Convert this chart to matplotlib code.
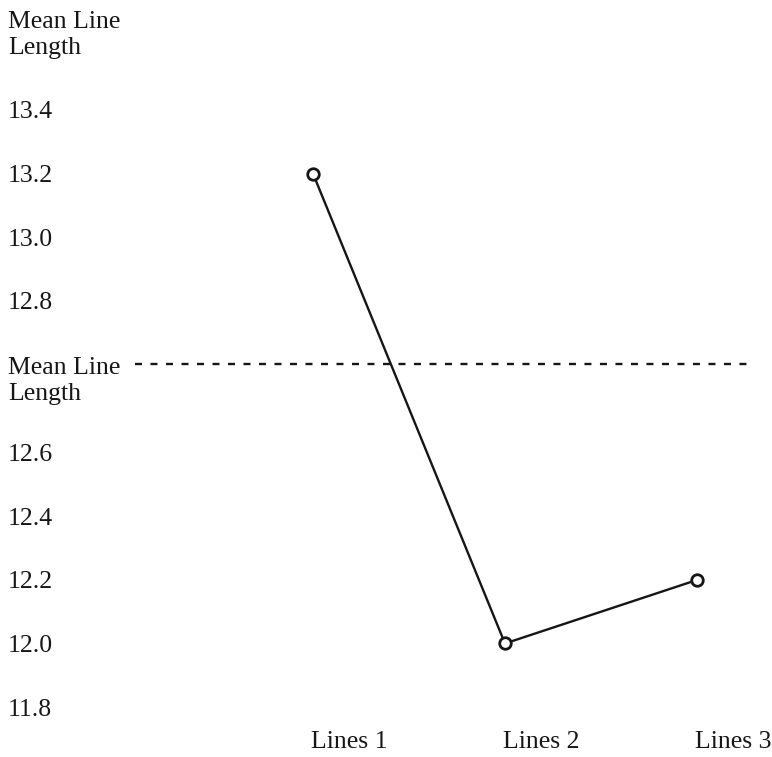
import numpy as np
import matplotlib
matplotlib.use("Agg")
import matplotlib.pyplot as plt
import matplotlib.transforms as mtransforms

# ---- data ----
categories = ["Lines 1", "Lines 2", "Lines 3"]
mean_line_length = [13.2, 12.0, 12.2]
tick_values = [11.8, 12.0, 12.2, 12.4, 12.6, 12.8, 13.0, 13.2, 13.4]
tick_labels = ["11.8", "12.0", "12.2", "12.4", "12.6", "12.8", "13.0", "13.2", "13.4"]
mean_value = 12.7
mean_label = "Mean Line\nLength"
y_title = "Mean Line\nLength"

# ---- layout: the printed axis leaves extra room for the mean label ----
scale_vals = [11.8, 12.0, 12.2, 12.4, 12.6, 12.7, 12.8, 13.0, 13.2, 13.4]
scale_rows = [0.0, 1.0, 2.0, 3.0, 4.0, 5.40, 6.4, 7.4, 8.4, 9.4]

def fwd(v):
    return np.interp(v, scale_vals, scale_rows)

def inv(r):
    return np.interp(r, scale_rows, scale_vals)

plt.rcParams['font.family'] = ['Liberation Serif', 'DejaVu Serif']
FS = 18.5
INK = "#161616"
LS = 1.25

W, H = 772, 757
fig = plt.figure(figsize=(W / 100, H / 100), dpi=100)
fig.patch.set_facecolor("white")
ax = fig.add_axes([135 / W, 50 / H, (753 - 135) / W, 597 / H])
ax.set_yscale("function", functions=(fwd, inv))
ax.set_ylim(11.8, 13.4)
ax.set_xlim(-0.927, 2.292)

x = np.arange(len(categories))
ax.plot(x, mean_line_length, color=INK, lw=1.7, marker="o", ms=8.3,
        mfc="white", mec=INK, mew=2.0, zorder=3)

ax.axhline(mean_value, xmin=0, xmax=1, color=INK, lw=1.7,
           dashes=(7 / 1.7 / 1.389, 8.5 / 1.7 / 1.389))

for s in ax.spines.values():
    s.set_visible(False)

ax.set_yticks(tick_values)
ax.set_yticklabels(tick_labels, fontsize=FS, color=INK)
ax.yaxis.set_minor_locator(matplotlib.ticker.NullLocator())
ax.tick_params(axis="y", length=0, pad=(135 - 8) / 1.389)
for lbl in ax.get_yticklabels():
    lbl.set_horizontalalignment("left")

ax.set_xticks(x)
ax.set_xticklabels(categories, fontsize=FS, color=INK)
ax.tick_params(axis="x", length=0, pad=17)
off = mtransforms.ScaledTranslation(36 / 100, 0, fig.dpi_scale_trans)
for lbl in ax.get_xticklabels():
    lbl.set_transform(lbl.get_transform() + off)

# mean label on the axis (baseline of the last line)
trans = mtransforms.blended_transform_factory(fig.transFigure, ax.transData)
down = mtransforms.ScaledTranslation(0, -36 / 100, fig.dpi_scale_trans)
ax.text(8 / W, mean_value, mean_label, transform=trans + down, ha="left",
        va="baseline", fontsize=FS, color=INK, linespacing=LS)

# axis title top-left (baseline of the last line)
fig.text(8 / W, 1 - 54 / H, y_title, ha="left", va="baseline",
         fontsize=FS, color=INK, linespacing=LS)

fig.savefig("out.png", dpi=100, facecolor="white")
